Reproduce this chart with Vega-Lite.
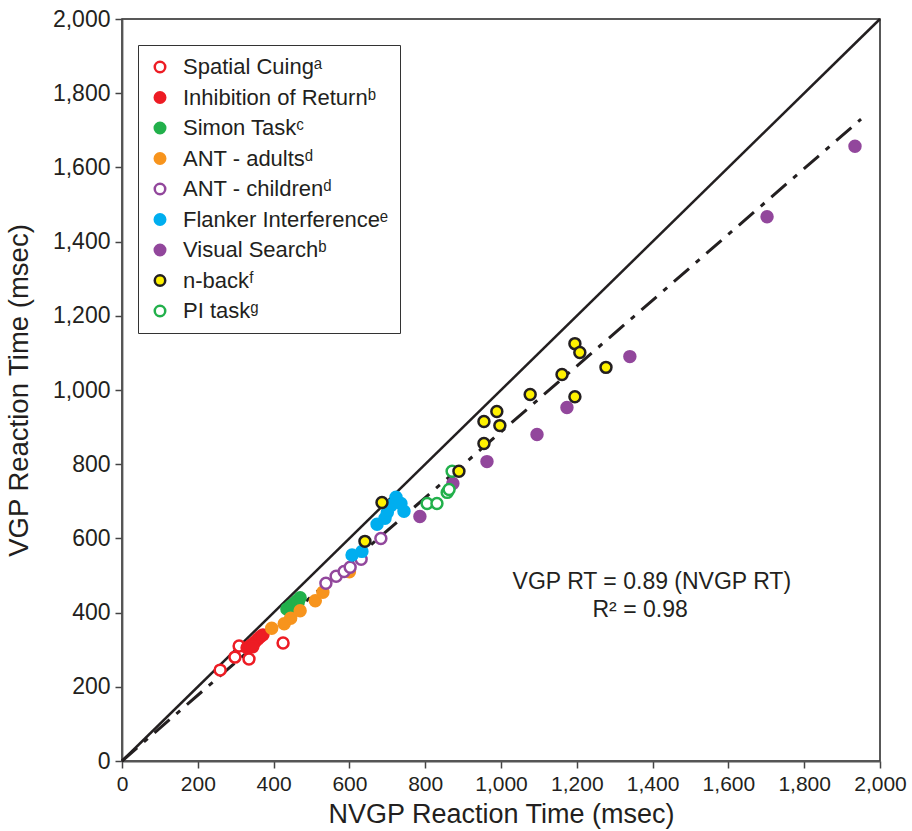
{
  "$schema": "https://vega.github.io/schema/vega-lite/v6.json",
  "width": 758,
  "height": 742,
  "autosize": "none",
  "padding": {"left": 122, "top": 19, "right": 32, "bottom": 70},
  "background": "white",
  "config": {
    "view": {"stroke": "#222", "strokeWidth": 1.5},
    "font": "Liberation Sans, Arial, sans-serif",
    "axis": {"grid": false, "domainColor": "#555", "domainWidth": 1.8, "tickColor": "#444", "tickWidth": 1.5, "tickSize": 7, "labelColor": "#231f20", "titleColor": "#231f20", "titleFontWeight": "normal"},
    "legend": {"labelFontSize": 22, "labelColor": "#231f20", "labelFont": "Liberation Sans, Arial, sans-serif", "labelLimit": 400}
  },
  "layer": [
    {
      "data": {"values": [{"nvgp": 0, "vgp": 0}, {"nvgp": 2000, "vgp": 2000}]},
      "mark": {"type": "line", "color": "#231f20", "strokeWidth": 2.5},
      "encoding": {
        "x": {"field": "nvgp", "type": "quantitative", "scale": {"domain": [0, 2000], "nice": false},
          "axis": {"values": [0, 200, 400, 600, 800, 1000, 1200, 1400, 1600, 1800, 2000], "format": ",d", "title": "NVGP Reaction Time (msec)", "labelFontSize": 21, "labelPadding": 5, "titleFontSize": 27, "titlePadding": 7, "labelFlush": false}},
        "y": {"field": "vgp", "type": "quantitative", "scale": {"domain": [0, 2000], "nice": false},
          "axis": {"values": [0, 200, 400, 600, 800, 1000, 1200, 1400, 1600, 1800, 2000], "format": ",d", "title": "VGP Reaction Time (msec)", "labelFontSize": 23, "labelPadding": 5, "titleFontSize": 27.5, "titlePadding": 19, "labelFlush": false}}
      }
    },
    {
      "data": {"values": [{"nvgp": 0, "vgp": 0}, {"nvgp": 1950, "vgp": 1730}]},
      "mark": {"type": "line", "color": "#231f20", "strokeWidth": 3, "strokeDash": [20, 9, 5, 9]},
      "encoding": {
        "x": {"field": "nvgp", "type": "quantitative"},
        "y": {"field": "vgp", "type": "quantitative"}
      }
    },
    {
      "data": {"values": [
        {"task": "Spatial Cuingᵃ", "nvgp": 259, "vgp": 245},
        {"task": "Spatial Cuingᵃ", "nvgp": 298, "vgp": 280},
        {"task": "Spatial Cuingᵃ", "nvgp": 309, "vgp": 310},
        {"task": "Spatial Cuingᵃ", "nvgp": 335, "vgp": 275},
        {"task": "Spatial Cuingᵃ", "nvgp": 425, "vgp": 318},
        {"task": "Inhibition of Returnᵇ", "nvgp": 330, "vgp": 305},
        {"task": "Inhibition of Returnᵇ", "nvgp": 340, "vgp": 312},
        {"task": "Inhibition of Returnᵇ", "nvgp": 350, "vgp": 320},
        {"task": "Inhibition of Returnᵇ", "nvgp": 358, "vgp": 328},
        {"task": "Inhibition of Returnᵇ", "nvgp": 365, "vgp": 335},
        {"task": "Inhibition of Returnᵇ", "nvgp": 372, "vgp": 340},
        {"task": "Inhibition of Returnᵇ", "nvgp": 345, "vgp": 308},
        {"task": "Simon Taskᶜ", "nvgp": 435, "vgp": 410},
        {"task": "Simon Taskᶜ", "nvgp": 445, "vgp": 418},
        {"task": "Simon Taskᶜ", "nvgp": 455, "vgp": 425},
        {"task": "Simon Taskᶜ", "nvgp": 462, "vgp": 432},
        {"task": "Simon Taskᶜ", "nvgp": 470, "vgp": 440},
        {"task": "Simon Taskᶜ", "nvgp": 450, "vgp": 415},
        {"task": "Simon Taskᶜ", "nvgp": 465, "vgp": 428},
        {"task": "ANT - adultsᵈ", "nvgp": 395, "vgp": 358},
        {"task": "ANT - adultsᵈ", "nvgp": 428, "vgp": 370},
        {"task": "ANT - adultsᵈ", "nvgp": 445, "vgp": 385},
        {"task": "ANT - adultsᵈ", "nvgp": 470, "vgp": 405},
        {"task": "ANT - adultsᵈ", "nvgp": 510, "vgp": 432},
        {"task": "ANT - adultsᵈ", "nvgp": 530, "vgp": 455},
        {"task": "ANT - adultsᵈ", "nvgp": 600, "vgp": 510},
        {"task": "ANT - childrenᵈ", "nvgp": 538, "vgp": 479},
        {"task": "ANT - childrenᵈ", "nvgp": 565, "vgp": 498},
        {"task": "ANT - childrenᵈ", "nvgp": 586, "vgp": 511},
        {"task": "ANT - childrenᵈ", "nvgp": 602, "vgp": 522},
        {"task": "ANT - childrenᵈ", "nvgp": 631, "vgp": 544},
        {"task": "ANT - childrenᵈ", "nvgp": 683, "vgp": 600},
        {"task": "Flanker Interferenceᵉ", "nvgp": 607, "vgp": 555},
        {"task": "Flanker Interferenceᵉ", "nvgp": 633, "vgp": 565},
        {"task": "Flanker Interferenceᵉ", "nvgp": 673, "vgp": 638},
        {"task": "Flanker Interferenceᵉ", "nvgp": 694, "vgp": 654},
        {"task": "Flanker Interferenceᵉ", "nvgp": 710, "vgp": 689},
        {"task": "Flanker Interferenceᵉ", "nvgp": 723, "vgp": 711},
        {"task": "Flanker Interferenceᵉ", "nvgp": 736, "vgp": 694},
        {"task": "Flanker Interferenceᵉ", "nvgp": 744, "vgp": 673},
        {"task": "Flanker Interferenceᵉ", "nvgp": 700, "vgp": 670},
        {"task": "Visual Searchᵇ", "nvgp": 1934, "vgp": 1657},
        {"task": "Visual Searchᵇ", "nvgp": 1702, "vgp": 1467},
        {"task": "Visual Searchᵇ", "nvgp": 1340, "vgp": 1090},
        {"task": "Visual Searchᵇ", "nvgp": 1174, "vgp": 953},
        {"task": "Visual Searchᵇ", "nvgp": 1095, "vgp": 880},
        {"task": "Visual Searchᵇ", "nvgp": 963, "vgp": 807},
        {"task": "Visual Searchᵇ", "nvgp": 873, "vgp": 748},
        {"task": "Visual Searchᵇ", "nvgp": 786, "vgp": 659},
        {"task": "PI taskᵍ", "nvgp": 805, "vgp": 694},
        {"task": "PI taskᵍ", "nvgp": 831, "vgp": 694},
        {"task": "PI taskᵍ", "nvgp": 858, "vgp": 724},
        {"task": "PI taskᵍ", "nvgp": 863, "vgp": 732},
        {"task": "PI taskᵍ", "nvgp": 871, "vgp": 781},
        {"task": "n-backᶠ", "nvgp": 686, "vgp": 697},
        {"task": "n-backᶠ", "nvgp": 641, "vgp": 592},
        {"task": "n-backᶠ", "nvgp": 889, "vgp": 781},
        {"task": "n-backᶠ", "nvgp": 955, "vgp": 915},
        {"task": "n-backᶠ", "nvgp": 955, "vgp": 856},
        {"task": "n-backᶠ", "nvgp": 989, "vgp": 942},
        {"task": "n-backᶠ", "nvgp": 997, "vgp": 904},
        {"task": "n-backᶠ", "nvgp": 1077, "vgp": 988},
        {"task": "n-backᶠ", "nvgp": 1161, "vgp": 1042},
        {"task": "n-backᶠ", "nvgp": 1195, "vgp": 1125},
        {"task": "n-backᶠ", "nvgp": 1208, "vgp": 1101},
        {"task": "n-backᶠ", "nvgp": 1195, "vgp": 982},
        {"task": "n-backᶠ", "nvgp": 1277, "vgp": 1061}
      ]},
      "mark": {"type": "point", "shape": "circle", "size": 120, "strokeWidth": 2.5, "opacity": 1},
      "encoding": {
        "x": {"field": "nvgp", "type": "quantitative"},
        "y": {"field": "vgp", "type": "quantitative"},
        "fill": {"field": "task", "type": "nominal",
          "scale": {"domain": ["Spatial Cuingᵃ", "Inhibition of Returnᵇ", "Simon Taskᶜ", "ANT - adultsᵈ", "ANT - childrenᵈ", "Flanker Interferenceᵉ", "Visual Searchᵇ", "n-backᶠ", "PI taskᵍ"],
            "range": ["white", "#ed1c24", "#22b04b", "#f7941d", "white", "#00aeef", "#92479c", "#fff200", "white"]},
          "legend": {"title": null, "orient": "none", "legendX": 16, "legendY": 26, "strokeColor": "#333", "padding": 11, "rowPadding": 8.5, "labelOffset": 12, "symbolSize": 110, "symbolStrokeWidth": 2.5}},
        "stroke": {"field": "task", "type": "nominal",
          "scale": {"domain": ["Spatial Cuingᵃ", "Inhibition of Returnᵇ", "Simon Taskᶜ", "ANT - adultsᵈ", "ANT - childrenᵈ", "Flanker Interferenceᵉ", "Visual Searchᵇ", "n-backᶠ", "PI taskᵍ"],
            "range": ["#ed1c24", "#ed1c24", "#22b04b", "#f7941d", "#92479c", "#00aeef", "#92479c", "#231f20", "#22b04b"]},
          "legend": {"title": null, "orient": "none", "legendX": 16, "legendY": 26, "strokeColor": "#333", "padding": 11, "rowPadding": 8.5, "labelOffset": 12, "symbolSize": 110, "symbolStrokeWidth": 2.5}}
      }
    },
    {
      "data": {"values": [
        {"nvgp": 1398, "vgp": 482, "label": "VGP RT = 0.89 (NVGP RT)"},
        {"nvgp": 1367, "vgp": 406, "label": "R² = 0.98"}
      ]},
      "mark": {"type": "text", "fontSize": 23, "align": "center", "baseline": "middle", "color": "#231f20"},
      "encoding": {
        "x": {"field": "nvgp", "type": "quantitative"},
        "y": {"field": "vgp", "type": "quantitative"},
        "text": {"field": "label"}
      }
    }
  ]
}
